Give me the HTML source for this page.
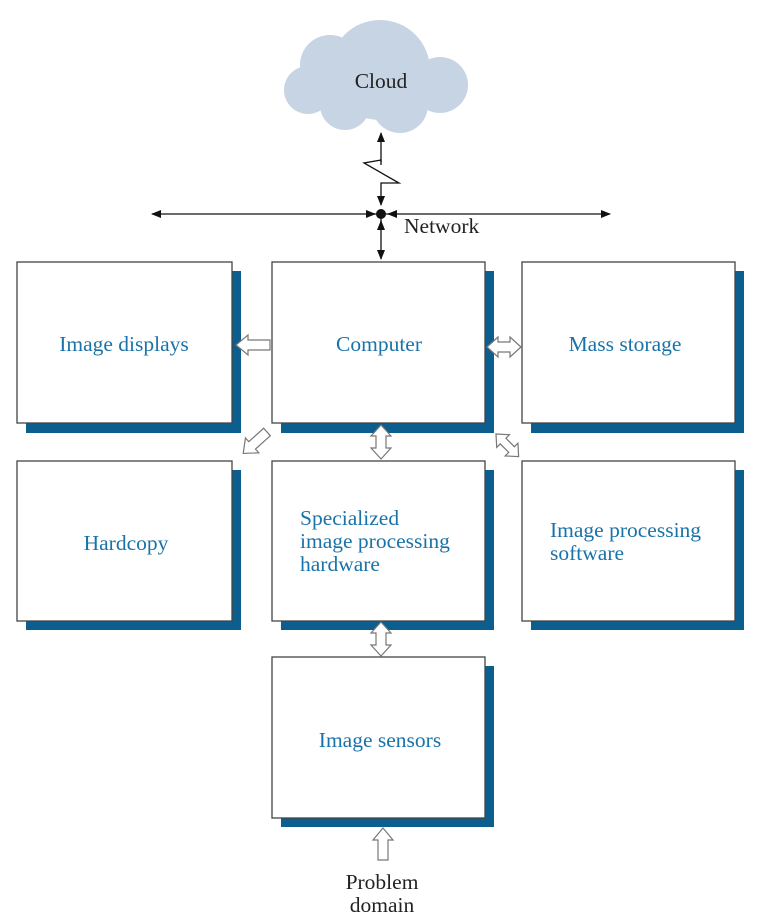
<!DOCTYPE html>
<html><head><style>
body{margin:0;background:#fff;width:768px;height:920px;overflow:hidden}
svg{display:block}
text{font-family:"Liberation Serif",serif;font-size:21.5px}
.b{fill:#1a73a8}
</style></head><body>
<svg width="768" height="920" viewBox="0 0 768 920">
<defs>
<marker id="ah" markerWidth="10" markerHeight="8" refX="9" refY="4" orient="auto" markerUnits="userSpaceOnUse"><path d="M0,0 L10,4 L0,8 Z" fill="#111"/></marker>
</defs>
<g fill="#c6d4e4">
<circle cx="380" cy="70" r="50"/>
<circle cx="330" cy="65" r="30"/>
<circle cx="308" cy="90" r="24"/>
<circle cx="440" cy="85" r="28"/>
<circle cx="345" cy="105" r="25"/>
<circle cx="400" cy="105" r="28"/>
<rect x="310" y="70" width="140" height="40"/>
</g>
<text x="381" y="88" text-anchor="middle" fill="#222">Cloud</text>
<g stroke="#111" stroke-width="1.3" fill="none">
<polyline points="381,165 381,160 364,163 399,183 381,183 381,205" marker-end="url(#ah)"/>
<line x1="381" y1="162" x2="381" y2="133" marker-end="url(#ah)"/>
<line x1="377" y1="214" x2="152" y2="214" marker-end="url(#ah)"/>
<line x1="385" y1="214" x2="610" y2="214" marker-end="url(#ah)"/>
<line x1="381" y1="218" x2="381" y2="259" marker-end="url(#ah)"/>
<line x1="381" y1="230" x2="381" y2="221" marker-end="url(#ah)"/>
<line x1="371" y1="214" x2="375" y2="214" marker-end="url(#ah)"/>
<line x1="395" y1="214" x2="388" y2="214" marker-end="url(#ah)"/>
</g>
<circle cx="381" cy="214" r="5" fill="#111"/>
<text x="404" y="233" fill="#222">Network</text>
<g fill="#0b5e8e">
<rect x="26" y="271" width="215" height="162"/>
<rect x="281" y="271" width="213" height="162"/>
<rect x="531" y="271" width="213" height="162"/>
<rect x="26" y="470" width="215" height="160"/>
<rect x="281" y="470" width="213" height="160"/>
<rect x="531" y="470" width="213" height="160"/>
<rect x="281" y="666" width="213" height="161"/>
</g>
<g fill="#fff" stroke="#444" stroke-width="1.3">
<rect x="17" y="262" width="215" height="161"/>
<rect x="272" y="262" width="213" height="161"/>
<rect x="522" y="262" width="213" height="161"/>
<rect x="17" y="461" width="215" height="160"/>
<rect x="272" y="461" width="213" height="160"/>
<rect x="522" y="461" width="213" height="160"/>
<rect x="272" y="657" width="213" height="161"/>
</g>
<text class="b" x="124" y="351" text-anchor="middle">Image displays</text>
<text class="b" x="379" y="351" text-anchor="middle">Computer</text>
<text class="b" x="625" y="351" text-anchor="middle">Mass storage</text>
<text class="b" x="126" y="550" text-anchor="middle">Hardcopy</text>
<text class="b" x="300" y="525">Specialized</text>
<text class="b" x="300" y="548">image processing</text>
<text class="b" x="300" y="571">hardware</text>
<text class="b" x="550" y="537">Image processing</text>
<text class="b" x="550" y="560">software</text>
<text class="b" x="380" y="747" text-anchor="middle">Image sensors</text>
<g fill="#fff" stroke="#777" stroke-width="1.2">
<polygon transform="translate(270,345) rotate(180)" points="0,-5 22,-5 22,-10 34,0 22,10 22,5 0,5"/>
<polygon transform="translate(487,347)" points="0,0 11,-10 11,-5 23,-5 23,-10 34,0 23,10 23,5 11,5 11,10"/>
<polygon transform="translate(381,425) rotate(90)" points="0,0 11,-10 11,-5 23,-5 23,-10 34,0 23,10 23,5 11,5 11,10"/>
<polygon transform="translate(381,622) rotate(90)" points="0,0 11,-10 11,-5 23,-5 23,-10 34,0 23,10 23,5 11,5 11,10"/>
<polygon transform="translate(267,432) rotate(138)" points="0,-5 20,-5 20,-10 32,0 20,10 20,5 0,5"/>
<polygon transform="translate(496,434) rotate(45)" points="0,0 10,-9 10,-4 22,-4 22,-9 32,0 22,9 22,4 10,4 10,9"/>
<polygon transform="translate(383,860) rotate(-90)" points="0,-5 20,-5 20,-10 32,0 20,10 20,5 0,5"/>
</g>
<text x="382" y="889" text-anchor="middle" fill="#222">Problem</text>
<text x="382" y="912" text-anchor="middle" fill="#222">domain</text>
</svg>
</body></html>
